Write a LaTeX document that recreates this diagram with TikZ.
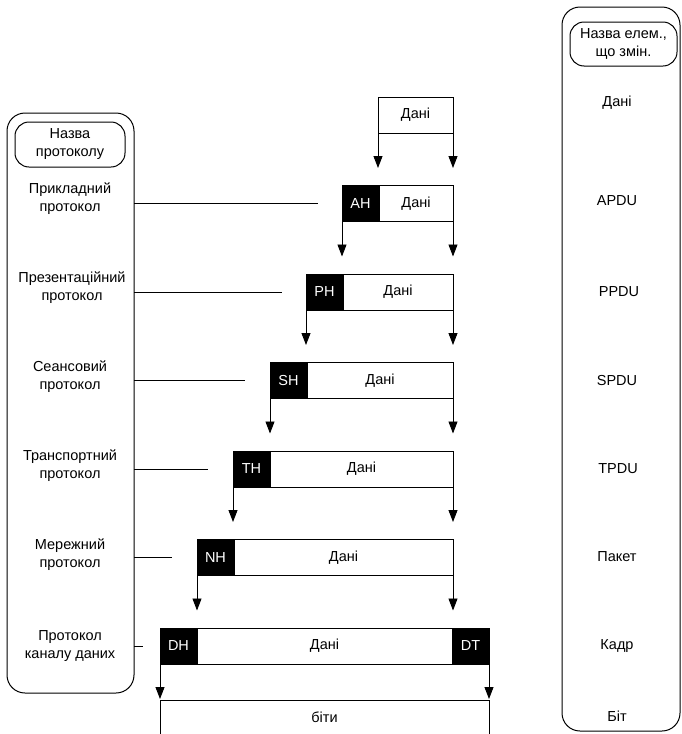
\documentclass[tikz,border=0pt]{standalone}
\usepackage{fontspec}
\setmainfont{Liberation Sans}
\usetikzlibrary{arrows.meta,calc}
\begin{document}
\begin{tikzpicture}[x=1pt,y=-1pt,
  every node/.style={font=\fontsize{14.5}{18}\selectfont, inner sep=0pt, outer sep=0pt},
  panel/.style={draw, line width=1pt, rounded corners=18pt},
  titlebox/.style={draw, line width=1pt, rounded corners=14pt, align=center},
  lbl/.style={align=center},
  datafld/.style={draw, line width=0.9pt, minimum height=36pt, anchor=north west},
  hdrfld/.style={draw, line width=0.9pt, fill=black, text=white, minimum width=37pt, minimum height=36pt, anchor=north west},
  arr/.style={-{Triangle[width=9pt,length=12pt]}, line width=0.9pt},
  link/.style={line width=0.9pt}]
\useasboundingbox (0,0) rectangle (682,734);

% side panels
\node[panel, minimum width=127pt, minimum height=580pt, anchor=north west] (lp) at (7,113) {};
\node[panel, minimum width=118pt, minimum height=724pt, anchor=north west] (rp) at (562,7) {};
\node[titlebox, minimum width=110pt, minimum height=45pt] (lt) at (70,144.5) {Назва\\протоколу};
\node[titlebox, minimum width=107pt, minimum height=44pt] (rt) at (623.5,44) {Назва елем.,\\що змін.};

% protocol names
\node[lbl] (l1) at (70,199) {Прикладний\\протокол};
\node[lbl] (l2) at (72,288) {Презентаційний\\протокол};
\node[lbl] (l3) at (70,377) {Сеансовий\\протокол};
\node[lbl] (l4) at (70,466) {Транспортний\\протокол};
\node[lbl] (l5) at (70,555) {Мережний\\протокол};
\node[lbl] (l6) at (70,646) {Протокол\\каналу даних};

% unit names
\node (r0) at (617,103) {Дані};
\node (r1) at (617,201) {APDU};
\node (r2) at (619,292) {PPDU};
\node (r3) at (617,381) {SPDU};
\node (r4) at (618,469) {TPDU};
\node (r5) at (617,557) {Пакет};
\node (r6) at (617,646) {Кадр};
\node (r7) at (617,716) {Біт};

% encapsulation stack
\node[datafld, minimum width=75pt] (d0) at (378,97) {Дані};

\node[hdrfld] (ah) at (342,185.5) {AH};
\node[datafld, minimum width=74pt] (ad) at (ah.north east) {Дані};

\node[hdrfld] (ph) at (306,274) {PH};
\node[datafld, minimum width=110pt] (pd) at (ph.north east) {Дані};

\node[hdrfld] (sh) at (270,362.5) {SH};
\node[datafld, minimum width=146pt] (sd) at (sh.north east) {Дані};

\node[hdrfld] (th) at (233,451) {TH};
\node[datafld, minimum width=183pt] (td) at (th.north east) {Дані};

\node[hdrfld] (nh) at (197,539.5) {NH};
\node[datafld, minimum width=219pt] (nd) at (nh.north east) {Дані};

\node[hdrfld] (dh) at (160,628) {DH};
\node[datafld, minimum width=255pt] (dd) at (dh.north east) {Дані};
\node[hdrfld] (dt) at (dd.north east) {DT};

% bit stream, running past the lower edge
\node[datafld, minimum width=329pt, minimum height=60pt] (bt) at (160,700) {};
\node (btx) at (324.5,717) {біти};

% arrows between layers
\foreach \a/\b in {d0.south west/d0.south east, ah.south west/ad.south east,
  ph.south west/pd.south east, sh.south west/sd.south east,
  th.south west/td.south east, nh.south west/nd.south east,
  dh.south west/dt.south east}{
  \draw[arr] (\a) -- ++(0,35);
  \draw[arr] (\b) -- ++(0,35);
}

% protocol name links
\draw[link] (lp.east |- ah.west) -- ($(ah.west)+(-24,0)$);
\draw[link] (lp.east |- ph.west) -- ($(ph.west)+(-24,0)$);
\draw[link] (lp.east |- sh.west) -- ($(sh.west)+(-25,0)$);
\draw[link] (lp.east |- th.west) -- ($(th.west)+(-25,0)$);
\draw[link] (lp.east |- nh.west) -- ($(nh.west)+(-25,0)$);
\draw[link] (lp.east |- dh.west) -- ($(dh.west)+(-17,0)$);
\end{tikzpicture}
\end{document}
